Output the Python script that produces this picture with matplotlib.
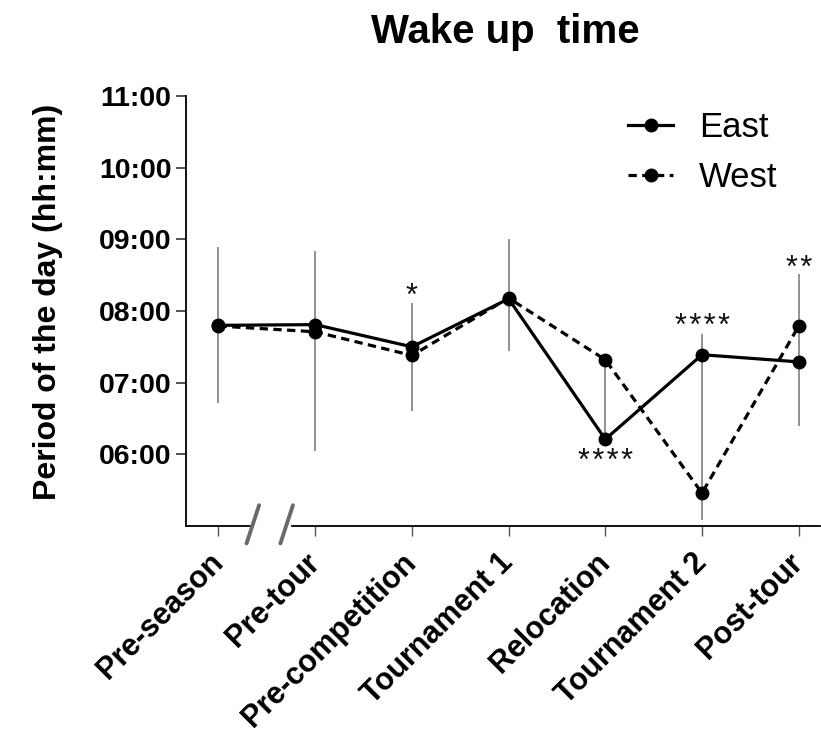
import matplotlib
matplotlib.use("Agg")
import matplotlib.pyplot as plt
from matplotlib.lines import Line2D

plt.rcParams['font.family'] = ['Liberation Sans', 'DejaVu Sans']

categories = ["Pre-season", "Pre-tour", "Pre-competition", "Tournament 1",
              "Relocation", "Tournament 2", "Post-tour"]
east = [7.80, 7.81, 7.50, 8.17, 6.21, 7.39, 7.29]
west = [7.79, 7.71, 7.38, 8.18, 7.32, 5.46, 7.79]
err_low = [6.72, 6.04, 6.61, 7.44, 6.21, 5.08, 6.40]
err_high = [8.90, 8.84, 8.11, 9.00, 7.32, 7.68, 8.52]
y_ticks = [6, 7, 8, 9, 10, 11]
y_tick_labels = ["06:00", "07:00", "08:00", "09:00", "10:00", "11:00"]
stars = ["", "", "*", "", "****", "****", "**"]
star_y = [None, None, 8.20, None, 5.89, 7.78, 8.59]

W, H = 821, 741
fig = plt.figure(figsize=(W / 100, H / 100), dpi=100)
ax = fig.add_axes([186 / W, 1 - 526 / H, (820 - 186) / W, (526 - 96) / H])

x = list(range(len(categories)))

ax.vlines(x, err_low, err_high, colors="#7f7f7f", linewidth=1.2, zorder=1)
ax.plot(x, west, color="black", linewidth=2.3, linestyle=(0, (2.6, 1.7)),
        marker="o", markersize=9, zorder=3)
ax.plot(x, east, color="black", linewidth=2.3, linestyle="-",
        marker="o", markersize=9, zorder=4)

for xi, s, sy in zip(x, stars, star_y):
    if s and sy is not None:
        ax.text(xi, sy, "\u200a".join(s), ha="center", va="center",
                fontsize=22, color="#111111")

ax.set_xlim(-0.336, 6.22)
ax.set_ylim(5.0, 11.0)
ax.set_yticks(y_ticks)
ax.set_yticklabels(y_tick_labels, fontsize=20.5, fontweight="bold")
ax.set_xticks(x)
ax.set_xticklabels(categories, fontsize=22, fontweight="bold", rotation=45,
                   ha="right", va="center", rotation_mode="anchor")
ax.tick_params(axis="y", length=7.5, width=1.2, pad=3, color="#333333")
ax.tick_params(axis="x", length=7, width=1.0, pad=16, color="#555555")

for s in ["top", "right"]:
    ax.spines[s].set_visible(False)
ax.spines["left"].set_linewidth(1.3)
ax.spines["bottom"].set_visible(False)

# broken bottom axis
xt = ax.get_xaxis_transform()
ax.plot([-0.336, 0.33], [0, 0], transform=xt, color="black", lw=1.3, clip_on=False)
ax.plot([0.765, 6.22], [0, 0], transform=xt, color="black", lw=1.3, clip_on=False)
ax.plot([0.29, 0.42], [4.757, 5.29], color="#6a6a6a", lw=2.8, clip_on=False,
        solid_capstyle="round")
ax.plot([0.64, 0.77], [4.757, 5.29], color="#6a6a6a", lw=2.8, clip_on=False,
        solid_capstyle="round")

ax.set_ylabel("Period of the day (hh:mm)", fontsize=23, fontweight="bold")
ax.yaxis.label.set_va("center")
ax.yaxis.set_label_coords((48 - 186) / 634, (526 - 302) / 430)

fig.text(505 / W, 1 - 32 / H, "Wake up  time", fontsize=29, fontweight="bold",
         ha="center", va="center")

handles = [
    Line2D([], [], color="black", lw=2.3, linestyle="-", marker="o", markersize=9),
    Line2D([], [], color="black", lw=2.3, linestyle=(0, (2.6, 1.7)), marker="o",
           markersize=9),
]
leg = fig.legend(handles, ["East", "West"], loc="upper left",
                 bbox_to_anchor=(628 / W, 1 - 111 / H), frameon=False,
                 fontsize=25, handlelength=1.3, handletextpad=0.75,
                 labelspacing=0.5, borderpad=0, borderaxespad=0)

fig.savefig("out.png", dpi=100)
